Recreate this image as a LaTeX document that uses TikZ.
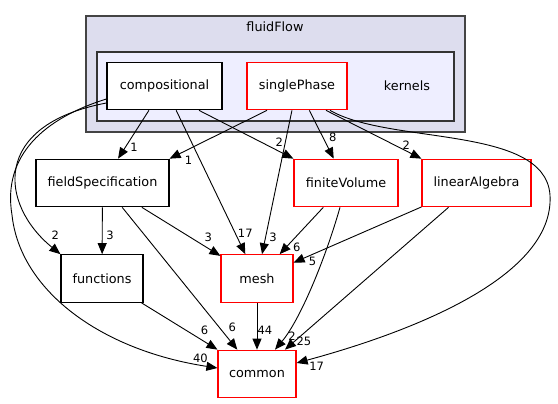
\documentclass[tikz,border=0pt]{standalone}
\usepackage{fontspec}
\setmainfont{DejaVu Sans}
\usepackage{tikz}
\usepackage{xcolor}
\usetikzlibrary{arrows.meta}

\definecolor{outerfill}{HTML}{DDDDEE}
\definecolor{innerfill}{HTML}{EEEEFF}
\definecolor{clusterline}{HTML}{444444}

\begin{document}
\begin{tikzpicture}[x=1pt, y=-1pt, font=\fontsize{12.8}{14}\selectfont,
  dirbox/.style={draw=black, fill=white, line width=1.2pt, minimum height=47.5pt, inner sep=0pt},
  redbox/.style={dirbox, draw=red},
  depline/.style={line width=0.9pt, -{Triangle[length=11pt,width=9pt]}},
  cntlbl/.style={font=\fontsize{11.5}{12}\selectfont, inner sep=0pt, pos=1}]
 \useasboundingbox (0,0) rectangle (558,404);
 \draw[fill=outerfill, draw=clusterline, line width=1.6pt] (86,16) rectangle (465,132);
 \node (fluidFlowlbl) at (275,27) {fluidFlow};
 \draw[fill=innerfill, draw=black!80, line width=1.6pt] (97,52) rectangle (454,121);
 \node (kernelslbl) at (407,86) {kernels};

 \node[dirbox, minimum width=115pt] (compositional) at (164.5,86) {compositional};
 \node[redbox, minimum width=100pt] (singlePhase) at (297,86) {singlePhase};
 \node[dirbox, minimum width=133pt] (fieldSpecification) at (102.5,183) {fieldSpecification};
 \node[redbox, minimum width=104pt] (finiteVolume) at (346,183) {finiteVolume};
 \node[redbox, minimum width=109pt] (linearAlgebra) at (476.5,183) {linearAlgebra};
 \node[dirbox, minimum width=82pt] (functions) at (102,278.5) {functions};
 \node[redbox, minimum width=72pt] (mesh) at (257,278.5) {mesh};
 \node[redbox, minimum width=78pt] (common) at (257,374) {common};

 % from the kernels directories
 \draw[depline] (compositional) -- (fieldSpecification) node[cntlbl, shift={(16,-11)}] {1};
 \draw[depline] ([xshift=-30pt]singlePhase.south) -- (fieldSpecification.north east) node[cntlbl, shift={(19,2)}] {1};
 \draw[depline] ([xshift=34.5pt]compositional.south) -- (finiteVolume.north west) node[cntlbl, shift={(-14,-16)}] {2};
 \draw[depline] (compositional) -- (mesh) node[cntlbl, shift={(0,-21)}] {17};
 \draw[depline] (singlePhase) -- (mesh) node[cntlbl, shift={(11,-17)}] {3};
 \draw[depline] (singlePhase) -- (finiteVolume) node[cntlbl, shift={(-1,-21)}] {8};
 \draw[depline] ([xshift=29pt]singlePhase.south) -- (linearAlgebra.north west) node[cntlbl, shift={(-15,-13)}] {2};
 \draw[depline] ([xshift=33pt]singlePhase.south) .. controls (390,145) and (545,125) .. (550,195)
   .. controls (555,280) and (400,335) .. ([yshift=11pt]common.east) node[cntlbl, shift={(20,3)}] {17};
 \draw[depline] ([yshift=-13pt]compositional.west) .. controls (45,118) and (2,155) .. (12,215)
   .. controls (20,290) and (100,350) .. ([yshift=6pt]common.west) node[cntlbl, shift={(-17,-10)}] {40};
 \draw[depline] ([yshift=-17pt]compositional.west) .. controls (-10,125) and (0,205) .. (functions.north west) node[cntlbl, shift={(-5,-19)}] {2};

 % the rest
 \draw[depline] (fieldSpecification) -- (functions) node[cntlbl, shift={(8,-19)}] {3};
 \draw[depline] (fieldSpecification) -- (common) node[cntlbl, shift={(-5,-22)}] {6};
 \draw[depline] (fieldSpecification) -- (mesh) node[cntlbl, shift={(-12,-19)}] {3};
 \draw[depline] (functions) -- (common) node[cntlbl, shift={(-13,-19)}] {6};
 \draw[depline] (mesh) -- (common) node[cntlbl, shift={(8,-19)}] {44};
 \draw[depline] (finiteVolume) -- (mesh) node[cntlbl, shift={(17,-7)}] {6};
 \draw[depline] ([xshift=-6pt]finiteVolume.south) .. controls (325,260) and (300,320) .. ([xshift=18pt]common.north) node[cntlbl, shift={(17,-13)}] {2};
 \draw[depline] (linearAlgebra) -- (mesh) node[cntlbl, shift={(19,-1)}] {5};
 \draw[depline] (linearAlgebra) -- (common) node[cntlbl, shift={(19,-8)}] {25};
\end{tikzpicture}
\end{document}
